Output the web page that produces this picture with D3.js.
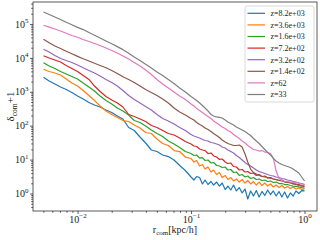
<!DOCTYPE html>
<html lang="en">
<head>
<meta charset="utf-8">
<title>Density profiles</title>
<script src="https://d3js.org/d3.v7.min.js"></script>
<style>
  body { margin: 0; background: #fff; }
  svg text { font-family: 'Liberation Serif', 'DejaVu Serif', serif; fill: #222; }
  .axis path { stroke: none; }
  .axis line { stroke: #333; stroke-width: 0.8px; }
</style>
</head>
<body>
<div id="chart"></div>
<script>

// radius bins [kpc/h]
var radius = [0.00501, 0.00562, 0.00631, 0.00708, 0.00794, 0.00891, 0.0100, 0.0112, 0.0126, 0.0141,
  0.0158, 0.0178, 0.0200, 0.0224, 0.0251, 0.0282, 0.0316, 0.0355, 0.0398, 0.0447,
  0.0501, 0.0562, 0.0631, 0.0708, 0.0794, 0.0891, 0.100,
  0.106, 0.112, 0.119, 0.126, 0.133, 0.141, 0.150, 0.158, 0.168, 0.178,
  0.188, 0.200, 0.211, 0.224, 0.237, 0.251, 0.266, 0.282, 0.299, 0.316,
  0.335, 0.355, 0.376, 0.398, 0.422, 0.447, 0.473, 0.501, 0.531, 0.562,
  0.596, 0.631, 0.668, 0.708, 0.750, 0.794, 0.841, 0.891, 0.944, 1.000];

var seriesNames = ['z=8.2e+03', 'z=3.6e+03', 'z=1.6e+03', 'z=7.2e+02', 'z=3.2e+02', 'z=1.4e+02', 'z=62', 'z=33'];
var seriesColors = ['#1f77b4', '#ff7f0e', '#2ca02c', '#d62728', '#9467bd', '#8c564b', '#e377c2', '#7f7f7f'];

var deltaZ8200 = [2680, 2080, 1700, 1390, 1170, 953, 752, 614, 483, 408,
  356, 290, 245, 193, 158, 88.5, 72.1, 46.5, 30.9, 19.2,
  17.3, 13.7, 12.3, 9.73, 6.70, 4.77, 3.07,
  2.50, 3.17, 2.96, 1.91, 2.50, 1.84, 2.26, 1.78, 2.18, 1.66,
  2.04, 1.31, 1.66, 1.27, 1.78, 1.19, 1.50, 1.04, 1.36, 0.689,
  1.19, 0.844, 1.22, 0.789, 1.15, 0.873, 1.27, 0.935, 1.19, 0.844,
  1.15, 0.789, 1.11, 0.736, 1.04, 0.844, 1.19, 1.00, 1.22, 1.19];

var deltaZ3600 = [4610, 3970, 3590, 3130, 2390, 1820, 1480, 1090, 778, 553,
  381, 272, 214, 175, 142, 133, 105, 85.5, 63.0, 58.9,
  40.5, 29.9, 26.1, 18.5, 17.3, 11.9, 10.8,
  8.49, 9.40, 6.47, 7.16, 5.28, 6.05, 4.31, 4.93, 3.63, 4.16,
  2.96, 3.40, 2.59, 2.96, 2.34, 2.68, 2.18, 2.59, 2.04, 2.42,
  1.91, 2.26, 1.78, 2.18, 1.72, 2.04, 1.66, 1.91, 1.56, 1.78,
  1.50, 1.72, 1.45, 1.61, 1.40, 1.56, 1.36, 1.45, 1.31, 1.36];

var deltaZ1600 = [7210, 5770, 4860, 3970, 3350, 2820, 2390, 1820, 1390, 1060,
  752, 553, 437, 333, 272, 207, 142, 124, 98.0, 74.6,
  58.9, 48.0, 35.4, 28.8, 22.8, 17.3, 15.1,
  13.2, 13.7, 11.1, 11.5, 9.40, 9.73, 7.94, 8.20, 6.70, 6.47,
  5.85, 6.05, 4.93, 5.11, 4.16, 4.31, 3.40, 3.63, 3.07, 3.28,
  2.77, 2.96, 2.59, 2.68, 2.42, 2.50, 2.26, 2.34, 2.11, 2.18,
  1.97, 1.97, 1.84, 1.84, 1.72, 1.66, 1.61, 1.56, 1.50, 1.45];

var deltaZ720 = [11600, 9930, 8670, 7570, 5970, 4860, 3970, 3030, 2310, 1480,
  1020, 726, 573, 468, 356, 214, 187, 158, 133, 101,
  88.5, 72.1, 58.9, 53.2, 43.4, 34.2, 28.8,
  25.2, 24.3, 20.6, 19.2, 18.5, 15.1, 15.7, 12.8, 11.9, 10.1,
  10.4, 8.49, 7.67, 7.94, 6.25, 6.05, 4.93, 5.11, 4.31, 4.46,
  3.89, 4.03, 3.40, 3.63, 3.17, 3.28, 2.86, 2.96, 2.68, 2.59,
  2.42, 2.50, 2.26, 2.18, 2.11, 1.97, 1.91, 1.84, 1.72, 1.66];

var deltaZ320 = [17900, 14900, 11800, 9600, 8380, 7310, 6180, 5110, 4250, 3590,
  2920, 2310, 1880, 1480, 1090, 778, 593, 468, 368, 290,
  214, 163, 138, 112, 88.5, 72.1, 55.0,
  49.7, 46.5, 43.4, 39.2, 36.6, 35.4, 31.9, 30.9, 28.8, 27.0,
  23.5, 22.0, 19.2, 17.3, 15.7, 13.2, 11.5, 9.73, 8.20, 7.16,
  6.47, 5.65, 4.93, 4.46, 4.16, 3.89, 3.63, 3.40, 3.28, 3.07,
  2.96, 2.77, 2.68, 2.50, 2.42, 2.26, 2.18, 2.04, 1.97, 1.84];

var deltaZ140 = [35400, 28100, 22400, 18900, 15700, 13200, 11100, 9400, 8100, 6930,
  5970, 5110, 4250, 3470, 2770, 2310, 1880, 1480, 1170, 953,
  778, 614, 468, 333, 254, 207, 163,
  147, 124, 108, 98.0, 85.5, 77.3, 67.5, 58.9, 51.4, 44.9,
  37.8, 33.0, 29.9, 27.9, 26.1, 26.1, 27.0, 23.5, 14.6, 8.49,
  5.28, 4.16, 3.76, 3.40, 3.17, 3.07, 2.96, 2.86, 2.68, 2.59,
  2.42, 2.34, 2.18, 2.11, 2.04, 1.91, 1.84, 1.72, 1.66, 1.61];

var deltaZ62 = [91600, 81100, 71300, 62200, 53200, 45800, 40600, 34900, 30500, 26600,
  23200, 19600, 16500, 14000, 11400, 9290, 7310, 5770, 4400, 3240,
  2310, 1700, 1290, 986, 752, 593, 437,
  381, 322, 281, 245, 214, 187, 163, 138, 120, 105,
  91.6, 82.6, 72.1, 65.2, 55.0, 48.0, 41.9, 35.4, 30.9, 26.1,
  22.8, 19.9, 19.2, 17.9, 18.5, 16.7, 16.2, 15.1, 11.1, 4.61,
  2.77, 2.42, 2.26, 2.26, 2.18, 2.11, 2.11, 2.04, 1.91, 1.84];

var deltaZ33 = [226000, 191000, 161000, 136000, 112000, 94600, 79400, 68400, 56100, 46400,
  38400, 31500, 26100, 21500, 17500, 13800, 10700, 8380, 6470, 5040,
  3840, 3030, 2310, 1750, 1290, 986, 726,
  634, 553, 468, 394, 333, 272, 214, 193, 181, 175,
  169, 147, 129, 116, 105, 91.6, 82.6, 74.6, 67.5, 58.9,
  51.4, 41.9, 35.4, 29.9, 24.3, 19.9, 16.2, 13.7, 10.8, 9.10,
  7.94, 7.16, 6.70, 6.25, 5.85, 5.28, 4.61, 4.03, 3.07, 2.34];

var seriesValues = [deltaZ8200, deltaZ3600, deltaZ1600, deltaZ720, deltaZ320, deltaZ140, deltaZ62, deltaZ33];

var xMajor = [0.01, 0.1, 1];
var xMajorExp = ['\u22122', '\u22121', '0'];
var yMajor = [1, 10, 100, 1000, 10000, 100000];
var yMajorExp = ['0', '1', '2', '3', '4', '5'];

var margin = { top: 2, right: 3, bottom: 29, left: 33 };
var W = 320, H = 240;
var w = W - margin.left - margin.right;
var h = H - margin.top - margin.bottom;

var xScale = d3.scaleLog().domain([0.00405, 1.288]).range([0, w]);
var yScale = d3.scaleLog().domain([0.305, 445000]).range([h, 0]);

var svg = d3.select('#chart').append('svg')
  .attr('width', W)
  .attr('height', H);

var g = svg.append('g')
  .attr('transform', 'translate(' + margin.left + ',' + margin.top + ')');

var minorTicks = function(scale) {
  var d = scale.domain();
  var out = [];
  for (var e = -3; e <= 5; e++) {
    for (var m = 2; m <= 9; m++) {
      var v = m * Math.pow(10, e);
      if (v > d[0] && v < d[1]) out.push(v);
    }
  }
  return out;
};

var supLabels = function(sel, exps) {
  sel.selectAll('.tick text').each(function(d, i) {
    var t = d3.select(this).text('');
    t.append('tspan').text('10');
    t.append('tspan').attr('dy', -4.5).attr('font-size', 7).text(exps[i]);
  });
};

// minor ticks
g.append('g')
  .attr('class', 'axis')
  .attr('transform', 'translate(0,' + h + ')')
  .call(d3.axisBottom(xScale).tickValues(minorTicks(xScale)).tickSize(1.8).tickFormat(''));

g.append('g')
  .attr('class', 'axis')
  .call(d3.axisLeft(yScale).tickValues(minorTicks(yScale)).tickSize(1.8).tickFormat(''));

// major ticks
var gx = g.append('g')
  .attr('class', 'axis')
  .attr('transform', 'translate(0,' + h + ')')
  .call(d3.axisBottom(xScale).tickValues(xMajor).tickSize(3).tickPadding(1.5).tickFormat(function() { return ''; }));
gx.attr('font-size', 10);
supLabels(gx, xMajorExp);

var gy = g.append('g')
  .attr('class', 'axis')
  .call(d3.axisLeft(yScale).tickValues(yMajor).tickSize(3).tickPadding(1.5).tickFormat(function() { return ''; }));
gy.attr('font-size', 10);
supLabels(gy, yMajorExp);

// lines
var line = d3.line()
  .x(function(d) { return xScale(d[0]); })
  .y(function(d) { return yScale(d[1]); });

seriesValues.forEach(function(vals, k) {
  g.append('path')
    .datum(radius.map(function(r, i) { return [r, vals[i]]; }))
    .attr('d', line)
    .attr('fill', 'none')
    .attr('stroke', seriesColors[k])
    .attr('stroke-width', 1.2)
    .attr('stroke-linejoin', 'round');
});

// frame
g.append('rect')
  .attr('width', w)
  .attr('height', h)
  .attr('fill', 'none')
  .attr('stroke', '#333')
  .attr('stroke-width', 0.8);

// axis labels
var xl = svg.append('text')
  .attr('x', margin.left + w / 2)
  .attr('y', 233)
  .attr('text-anchor', 'middle')
  .attr('font-size', 10);
xl.append('tspan').text('r');
xl.append('tspan').attr('dy', 2).attr('font-size', 7).text('com');
xl.append('tspan').attr('dy', -2).text('[kpc/h]');

var yl = svg.append('text')
  .attr('transform', 'translate(14,' + (margin.top + h / 2) + ') rotate(-90)')
  .attr('text-anchor', 'middle')
  .attr('font-size', 11);
yl.append('tspan').text('\u03b4');
yl.append('tspan').attr('dy', 2.5).attr('font-size', 7.5).text('com');
yl.append('tspan').attr('dy', -2.5).text('+1');

// legend
var legend = g.append('g').attr('transform', 'translate(212,4)');
legend.append('rect')
  .attr('width', 69)
  .attr('height', 96)
  .attr('rx', 2)
  .attr('fill', '#fff')
  .attr('fill-opacity', 0.8)
  .attr('stroke', '#d0d0d0')
  .attr('stroke-width', 0.8);

seriesNames.forEach(function(name, k) {
  var yy = 7.3 + k * 11.6;
  legend.append('line')
    .attr('x1', 2.5).attr('x2', 20)
    .attr('y1', yy).attr('y2', yy)
    .attr('stroke', seriesColors[k])
    .attr('stroke-width', 1.2);
  legend.append('text')
    .attr('x', 25.5)
    .attr('y', yy + 2.8)
    .attr('font-size', 8)
    .text(name);
});

</script>
</body>
</html>
